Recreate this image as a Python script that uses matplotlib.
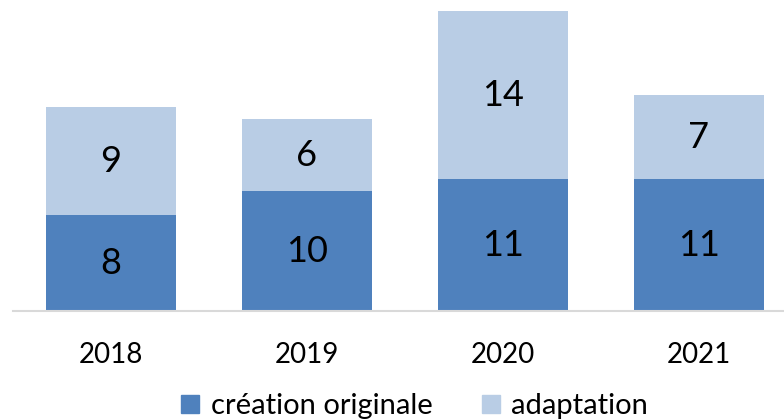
import numpy as np
from matplotlib import pyplot as plt
from matplotlib.lines import Line2D

years = ['2018', '2019', '2020', '2021']
creation = [8, 10, 11, 11]
adaptation = [9, 6, 14, 7]

dark = '#4F81BD'
light = '#B9CDE5'

plt.rcParams['font.family'] = ['Lato', 'DejaVu Sans']

fig = plt.figure(figsize=(7.84, 4.2), dpi=100)
W, H = 784, 420
ax = fig.add_axes([13 / W, (H - 311) / H, (W - 13) / W, 311 / H])

x = np.arange(len(years))
width = 130 / 196
b1 = ax.bar(x, creation, width, color=dark, label='création originale')
b2 = ax.bar(x, adaptation, width, bottom=creation, color=light, label='adaptation')

for i in range(len(years)):
    ax.text(x[i], creation[i] / 2, str(creation[i]), ha='center', va='center',
            fontsize=26, color='black')
    ax.text(x[i], creation[i] + adaptation[i] / 2, str(adaptation[i]),
            ha='center', va='center', fontsize=26, color='black')

ax.set_xlim(-0.5, -0.5 + (W - 13) / 196)
ax.set_ylim(0, 311 / 12)
ax.set_xticks(x)
ax.set_xticklabels(years, fontsize=20)
ax.tick_params(axis='x', length=0, pad=22)
ax.set_yticks([])
for s in ['top', 'right', 'left']:
    ax.spines[s].set_visible(False)
ax.spines['bottom'].set_color('#D9D9D9')
ax.spines['bottom'].set_linewidth(1.5)

handles = [Line2D([], [], marker='s', linestyle='', markersize=13, color=dark),
           Line2D([], [], marker='s', linestyle='', markersize=13, color=light)]
fig.legend(handles, ['création originale', 'adaptation'], loc='lower center',
           bbox_to_anchor=(0.527, -0.06), ncol=2, frameon=False, fontsize=21,
           handlelength=0.8, handletextpad=0.3, columnspacing=1.6)

fig.savefig('out.png', dpi=100)
